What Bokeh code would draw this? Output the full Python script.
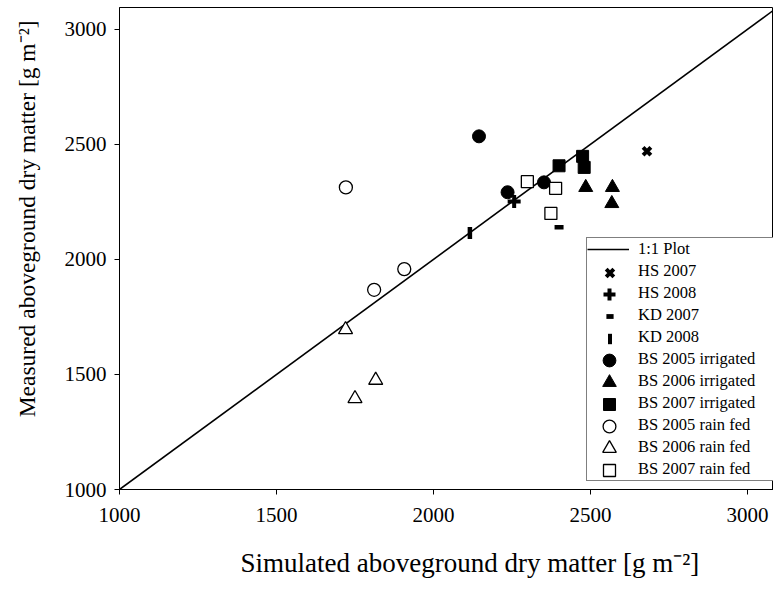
from bokeh.plotting import figure
from bokeh.models import Range1d, Legend, LegendItem, Title, FixedTicker
from bokeh.embed import file_html
from bokeh.resources import INLINE

# ---- data ----
x_ticks = [1000, 1500, 2000, 2500, 3000]
y_ticks = [1000, 1500, 2000, 2500, 3000]
line_1to1 = [1000, 3100]

hs2007_sim = [2680]
hs2007_meas = [2470]
hs2008_sim = [2257]
hs2008_meas = [2252]
kd2007_sim = [2400]
kd2007_meas = [2140]
kd2008_sim = [2116]
kd2008_meas = [2115]
bs2005_irr_sim = [2145, 2236, 2352]
bs2005_irr_meas = [2535, 2292, 2335]
bs2006_irr_sim = [2485, 2570, 2568]
bs2006_irr_meas = [2313, 2313, 2243]
bs2007_irr_sim = [2400, 2475, 2480]
bs2007_irr_meas = [2407, 2448, 2400]
bs2005_rf_sim = [1721, 1811, 1907]
bs2005_rf_meas = [2313, 1868, 1958]
bs2006_rf_sim = [1720, 1750, 1816]
bs2006_rf_meas = [1695, 1395, 1475]
bs2007_rf_sim = [2299, 2389, 2374]
bs2007_rf_meas = [2338, 2309, 2200]

legend_labels = ["1:1 Plot", "HS 2007", "HS 2008", "KD 2007", "KD 2008",
                 "BS 2005 irrigated", "BS 2006 irrigated", "BS 2007 irrigated",
                 "BS 2005 rain fed", "BS 2006 rain fed", "BS 2007 rain fed"]

FONT = "Liberation Serif"

p = figure(width=773, height=585,
           x_range=Range1d(1000, 3083), y_range=Range1d(1000, 3095),
           output_backend="svg", toolbar_location=None,
           min_border_left=119, min_border_right=0,
           min_border_top=7, min_border_bottom=96)

p.xgrid.visible = False
p.ygrid.visible = False
p.outline_line_color = "black"
p.outline_line_width = 1
p.background_fill_color = "white"
p.border_fill_color = "white"

for ax, ticks in ((p.xaxis[0], x_ticks), (p.yaxis[0], y_ticks)):
    ax.ticker = FixedTicker(ticks=ticks)
    ax.minor_tick_line_color = None
    ax.major_tick_in = 0
    ax.major_tick_out = 5
    ax.major_tick_line_color = "black"
    ax.axis_line_color = "black"
    ax.major_label_text_font = FONT
    ax.major_label_text_font_size = "21px"
    ax.major_label_text_color = "black"
p.xaxis[0].major_label_standoff = 13
p.yaxis[0].major_label_standoff = 8

r_line = p.line(line_1to1, line_1to1, line_color="black", line_width=1.6)

r_hs07 = p.scatter(hs2007_sim, hs2007_meas, marker="x", size=11,
                   line_color="black", line_width=4)
r_hs08 = p.scatter(hs2008_sim, hs2008_meas, marker="cross", size=13,
                   line_color="black", line_width=4)
r_kd07 = p.rect(kd2007_sim, kd2007_meas, width=9, height=4.5,
                width_units="screen", height_units="screen",
                fill_color="black", line_color=None)
r_kd08 = p.rect(kd2008_sim, kd2008_meas, width=4.5, height=12,
                width_units="screen", height_units="screen",
                fill_color="black", line_color=None)
r_c_f = p.scatter(bs2005_irr_sim, bs2005_irr_meas, marker="circle", size=13,
                  fill_color="black", line_color="black")
r_t_f = p.scatter(bs2006_irr_sim, bs2006_irr_meas, marker="triangle", size=14,
                  fill_color="black", line_color="black")
r_s_f = p.scatter(bs2007_irr_sim, bs2007_irr_meas, marker="square", size=12,
                  fill_color="black", line_color="black")
r_c_o = p.scatter(bs2005_rf_sim, bs2005_rf_meas, marker="circle", size=13,
                  fill_color="white", line_color="black", line_width=1.3)
r_t_o = p.scatter(bs2006_rf_sim, bs2006_rf_meas, marker="triangle", size=14,
                  fill_color="white", line_color="black", line_width=1.3)
r_s_o = p.scatter(bs2007_rf_sim, bs2007_rf_meas, marker="square", size=12,
                  fill_color="white", line_color="black", line_width=1.3)
# invisible placeholder: the main legend only carries the labels and the box
r_blank = p.scatter(kd2007_sim, kd2007_meas, marker="circle", size=1,
                    fill_alpha=0, line_alpha=0)

symbol_renderers = [r_line, r_hs07, r_hs08, r_kd07, r_kd08, r_c_f, r_t_f, r_s_f,
                    r_c_o, r_t_o, r_s_o]
# glyph box (w, h) used to draw each legend symbol
symbol_boxes = [None, (27, 27), (30, 30), (9, 6), (5, 13), (32, 32), (34, 34),
                (30, 30), (32, 32), (34, 34), (30, 30)]

ROW = 22
items = []
for lab, r in zip(legend_labels, symbol_renderers):
    items.append(LegendItem(label=lab, renderers=[r if r is r_line else r_blank]))
legend = Legend(items=items, location=(467, 8),
                label_text_font=FONT, label_text_font_size="16.5px",
                label_text_color="black",
                glyph_width=42, glyph_height=ROW, label_height=ROW,
                label_width=136, spacing=0, padding=0, margin=0,
                label_standoff=9,
                border_line_color="black", border_line_width=1,
                background_fill_color="white", background_fill_alpha=1)
p.add_layout(legend, "center")

# overlay legends drawing the symbols at full marker size
n_rows = len(legend_labels)
top_y = 8 + n_rows * ROW
cx = 490
for i, (r, box) in enumerate(zip(symbol_renderers, symbol_boxes)):
    if box is None:
        continue
    gw, gh = box
    cy = top_y - ROW / 2 - i * ROW
    p.add_layout(Legend(items=[LegendItem(label=" ", renderers=[r])],
                        location=(cx - gw / 2, cy - gh / 2),
                        glyph_width=gw, glyph_height=gh, label_height=gh,
                        label_width=0, label_standoff=0,
                        label_text_font_size="1px", padding=0, margin=0,
                        spacing=0, border_line_color=None,
                        background_fill_alpha=0), "center")

# axis titles (with spacers to place them like the original)
p.add_layout(Title(text=" ", text_font_size="1px", standoff=17), "below")
xt = Title(text="Simulated aboveground dry matter [g m\u207b\u00b2]", align="left",
           vertical_align="bottom", standoff=2,
           text_font=FONT, text_font_size="27px", text_font_style="normal",
           text_color="black", offset=121)
p.add_layout(xt, "below")
p.add_layout(Title(text=" ", text_font_size="1px", standoff=18), "left")
yt = Title(text="Measured aboveground dry matter [g m\u207b\u00b2]", align="right",
           vertical_align="bottom", standoff=2,
           text_font=FONT, text_font_size="23.5px", text_font_style="normal",
           text_color="black", offset=13)
p.add_layout(yt, "left")

open("out.html", "w").write(file_html(p, INLINE))
